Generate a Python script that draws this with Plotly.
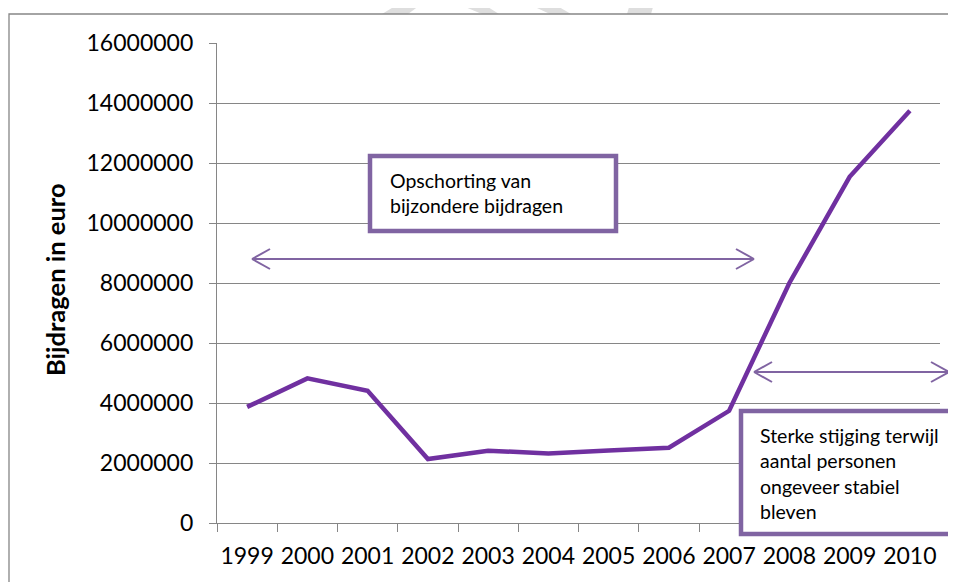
import plotly.graph_objects as go

# data
years = ["1999", "2000", "2001", "2002", "2003", "2004", "2005", "2006", "2007", "2008", "2009", "2010"]
bijdragen = [3870000, 4820000, 4410000, 2130000, 2410000, 2320000, 2420000, 2510000, 3740000, 8000000, 11540000, 13740000]

y_ticks = [0, 2000000, 4000000, 6000000, 8000000, 10000000, 12000000, 14000000, 16000000]

LINE = "#7030A0"
ACCENT = "#8064A2"
GRID = "#868686"
FONT = "Lato, 'Open Sans', sans-serif"

# the page body adds an 8px margin, so the figure sits 8px in from the corner
OFF = 8
W, H = 956 - OFF, 582 - OFF
# plot area in page pixels
L, R, T, B = 217, 940, 43, 523


def px(x):
    return (x - L) / (R - L)


def py(y):
    return (B - y) / (B - T)


def seg(x0, y0, x1, y1, color=ACCENT, width=2):
    return dict(type="line", xref="paper", yref="paper",
                x0=px(x0), y0=py(y0), x1=px(x1), y1=py(y1),
                line=dict(color=color, width=width))


def poly(points, color="#DEDEDE"):
    path = "M " + " L ".join(f"{px(x)},{py(y)}" for x, y in points) + " Z"
    return dict(type="path", xref="paper", yref="paper", path=path,
                fillcolor=color, line=dict(width=0), layer="below")


def double_arrow(x0, x1, y, head=18, spread=10):
    return [
        seg(x0, y, x1, y),
        seg(x0, y, x0 + head, y - spread),
        seg(x0, y, x0 + head, y + spread),
        seg(x1, y, x1 - head, y - spread),
        seg(x1, y, x1 - head, y + spread),
    ]


fig = go.Figure(go.Scatter(
    x=years, y=bijdragen, mode="lines",
    line=dict(color=LINE, width=4.5),
    hoverinfo="x+y",
))

shapes = [
    # faint watermark above the chart border
    poly([(410, -3), (431, -3), (408, 14), (382, 14)]),
    poly([(441, -3), (472, -3), (499, 14), (482, 14)]),
    poly([(513, -3), (542, -3), (571, 14), (550, 14)]),
    poly([(632, -3), (656, -3), (651, 14), (627, 14)]),
    # outer chart border
    dict(type="rect", xref="paper", yref="paper",
         x0=px(9), y0=py(14), x1=px(1000), y1=py(620),
         line=dict(color=GRID, width=1.3), fillcolor="rgba(0,0,0,0)"),
    # text boxes
    dict(type="rect", xref="paper", yref="paper",
         x0=px(370), y0=py(156), x1=px(616), y1=py(231),
         line=dict(color=ACCENT, width=4.5), fillcolor="white"),
    dict(type="rect", xref="paper", yref="paper",
         x0=px(741), y0=py(411), x1=px(990), y1=py(534),
         line=dict(color=ACCENT, width=4.5), fillcolor="white"),
]
shapes += double_arrow(252, 754, 259)
shapes += double_arrow(754, 949, 372)

fig.update_layout(
    width=W,
    height=H,
    margin=dict(l=L - OFF, r=956 - R, t=T - OFF, b=582 - B),
    paper_bgcolor="white",
    plot_bgcolor="white",
    font=dict(family=FONT, color="black", size=23),
    showlegend=False,
    shapes=shapes,
    annotations=[
        dict(text="<b>Bijdragen in euro</b>", textangle=-90, showarrow=False,
             xref="paper", yref="paper", x=px(55), y=py(280),
             xanchor="center", yanchor="middle", font=dict(size=25.5)),
        dict(text="Opschorting van<br>bijzondere bijdragen", showarrow=False, align="left",
             xref="paper", yref="paper", x=px(388), y=py(193),
             xanchor="left", yanchor="middle", font=dict(size=19.5)),
        dict(text="Sterke stijging terwijl<br>aantal personen<br>ongeveer stabiel<br>bleven",
             showarrow=False, align="left",
             xref="paper", yref="paper", x=px(758), y=py(473),
             xanchor="left", yanchor="middle", font=dict(size=19.5)),
    ],
)

fig.update_xaxes(
    type="category",
    range=[-0.5, len(years) - 0.5],
    tickson="boundaries",
    tickangle=0,
    automargin=False,
    ticks="outside", ticklen=8, tickcolor=GRID, tickwidth=1.3,
    showline=True, linecolor=GRID, linewidth=1.3,
    showgrid=False, zeroline=False,
    ticklabelstandoff=12,
)
fig.update_yaxes(
    range=[0, 16000000],
    tickvals=y_ticks,
    tickformat="d",
    automargin=False,
    ticks="outside", ticklen=7, tickcolor=GRID, tickwidth=1.3,
    showline=True, linecolor=GRID, linewidth=1.3,
    gridcolor=GRID, gridwidth=1.3, zeroline=False,
    ticklabelstandoff=11,
)

fig.write_html("out.html")
